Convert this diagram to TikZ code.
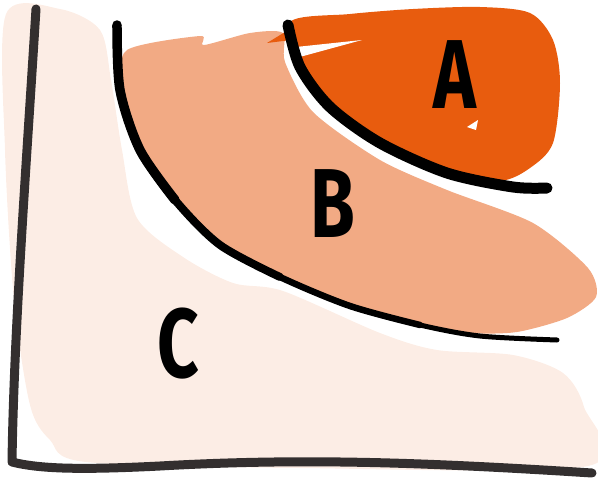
\documentclass[tikz,border=0pt]{standalone}
\usepackage{fontspec}
\setmainfont{Fira Sans}
\usepackage{xcolor}
\definecolor{regA}{HTML}{E85C0E}
\definecolor{regB}{HTML}{F2AA84}
\definecolor{regC}{HTML}{FCEDE5}
\definecolor{axisgray}{HTML}{332F2F}

\begin{document}
\begin{tikzpicture}[x=1pt,y=-1pt,
        axisline/.style={draw=axisgray, line width=9pt, line cap=round, line join=round},
        curve/.style={draw=black, line cap=round, line join=round},
        letter/.style={font=\fontsize{98}{98}\selectfont\bfseries, inner sep=0pt, xscale=0.74}]
        \useasboundingbox (0,0) rectangle (598,482);

        % region C
        \fill[regC] plot[smooth cycle, tension=0.5] coordinates {
            (6,14) (60,9) (100,30) (111,80) (122,150) (137,218) (183,257)
            (233,283) (283,291) (380,333) (437,350) (513,355) (563,373)
            (584,407) (588,466) (300,468) (86,462) (50,440) (30,405)
            (14,300) (5,150)};
        % region B
        \fill[regB] plot[smooth cycle, tension=0.45] coordinates {
            (127,50) (200,36) (204,45) (250,33) (283,33) (285,62) (313,112)
            (380,160) (447,190) (533,223) (588,268) (596,297) (567,318)
            (517,332) (470,333) (420,325) (350,306) (280,277) (220,245)
            (175,200) (140,150) (122,90)};
        % region A
        \fill[regA] plot[smooth cycle, tension=0.5] coordinates {
            (290,22) (350,14) (413,9) (480,7) (530,13) (553,40) (560,83)
            (553,143) (530,168) (500,181) (447,174) (380,144) (330,108)
            (300,68)};
        \fill[regA] (267,43) -- (290,29) -- (291,40) -- cycle;
        \fill[white] (296,47) -- (362,40) -- (296,58) -- cycle;
        \fill[white] (467,127) -- (478,120) -- (476,130) -- cycle;

        % curves
        \draw[curve, line width=11pt] plot[smooth] coordinates {
            (288,25) (300,67) (330,107) (380,143) (447,173) (513,187) (547,188)};
        \draw[curve, line width=5pt] plot[smooth] coordinates {
            (117,25) (120,90) (140,150) (175,200) (220,245) (280,277)
            (350,306) (420,325) (480,336) (557,340)};
        \draw[curve, line width=6.5pt] plot[smooth] coordinates {
            (117,25) (120,90) (140,150) (175,200) (220,245) (280,277)
            (350,306) (420,325)};
        \draw[curve, line width=8pt] plot[smooth] coordinates {
            (117,25) (120,90) (140,150) (175,200) (220,245) (280,277)};
        \draw[curve, line width=9.5pt] plot[smooth] coordinates {
            (117,25) (120,90) (140,150) (175,200)};

        % axes
        \draw[axisline] (36,9) .. controls (26,170) and (14,330) .. (12,462)
            .. controls (40,469) and (80,470) .. (160,466)
            .. controls (300,458) and (420,462) .. (592,473);

        \node[letter] (la) at (455,75) {A};
        \node[letter] (lb) at (333,204) {B};
        \node[letter] (lc) at (178,344) {C};
\end{tikzpicture}
\end{document}
